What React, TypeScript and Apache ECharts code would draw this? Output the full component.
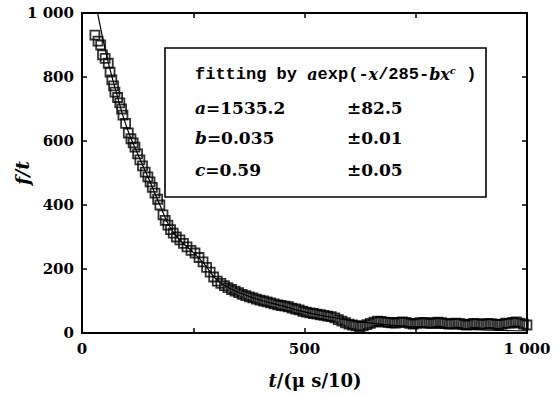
import React, { useEffect, useRef } from "react";
import * as echarts from "echarts";

// measured points: [t, f/t]
const measuredX = [29, 36, 42, 46, 52, 59, 63, 67, 71, 74, 80, 85, 89, 92, 98, 104, 110, 115, 119, 125, 130, 136, 142, 148, 153, 158, 164, 170, 175, 182, 187, 193, 199, 205, 212, 220, 228, 236, 245, 254, 263, 272, 280, 288, 296, 304, 312, 320, 328, 336, 344, 352, 360, 368, 376, 384, 392, 400, 408, 416, 424, 432, 440, 448, 456, 464, 472, 480, 488, 496, 504, 512, 520, 528, 536, 544, 552, 560, 568, 576, 584, 592, 600, 608, 616, 624, 632, 640, 648, 656, 664, 672, 680, 688, 696, 704, 712, 720, 728, 736, 744, 752, 760, 768, 776, 784, 792, 800, 808, 816, 824, 832, 840, 848, 856, 864, 872, 880, 888, 896, 904, 912, 920, 928, 936, 944, 952, 960, 968, 976, 984, 992, 1000];
const measuredY = [931, 912, 900, 869, 858, 843, 815, 791, 772, 753, 736, 719, 700, 681, 655, 625, 607, 594, 581, 560, 541, 522, 503, 488, 472, 455, 437, 418, 400, 369, 352, 337, 323, 312, 300, 291, 280, 269, 258, 250, 236, 222, 205, 190, 175, 162, 155, 148, 142, 136, 131, 126, 121, 117, 113, 110, 106, 103, 100, 97, 94, 91, 88, 86, 84, 82, 78, 75, 72, 68, 65, 63, 61, 59, 57, 55, 53, 51, 47, 42, 37, 32, 28, 25, 22, 20, 22, 26, 30, 34, 37, 36, 34, 33, 32, 31, 33, 35, 33, 30, 28, 30, 32, 33, 31, 30, 32, 34, 32, 30, 28, 29, 31, 30, 27, 25, 28, 30, 29, 27, 28, 30, 29, 27, 26, 28, 31, 30, 33, 35, 31, 28, 25];

// fitted curve
const fitX = [30, 40, 50, 60, 75, 100, 125, 150, 175, 200, 225, 250, 275, 300, 325, 350, 400, 450, 500, 550, 600, 650, 700, 750, 800, 850, 900, 950, 1000];
const fitY = [1040, 965, 900, 840, 762, 645, 560, 482, 400, 325, 283, 252, 215, 170, 145, 128, 103, 85, 66, 52, 40, 31, 24, 19, 15, 12, 10, 8, 7];

const xTickLabels: Record<number, string> = { 0: "0", 500: "500", 1000: "1 000" };
const yTickLabels: Record<number, string> = { 0: "0", 200: "200", 400: "400", 600: "600", 800: "800", 1000: "1 000" };

const legendRows = [
  ["a", "=1535.2", "±82.5"],
  ["b", "=0.035", "±0.01"],
  ["c", "=0.59", "±0.05"],
];

const SERIF = "'DejaVu Serif', 'Liberation Serif', serif";
const MONO = "'Liberation Mono', 'Courier New', monospace";

export default function App() {
  const ref = useRef<HTMLDivElement>(null);
  useEffect(() => {
    if (!ref.current) return;
    const chart = echarts.init(ref.current, undefined, { renderer: "svg" });
    const axisLine = { show: true, onZero: false, lineStyle: { color: "#000", width: 2 } };
    const tick = { show: true, inside: true, length: 5, lineStyle: { color: "#000", width: 1.5 } };
    const labelStyle = { color: "#000", fontFamily: SERIF, fontWeight: "bold" as const, fontSize: 15 };
    const rowY = [108, 138, 170];
    const rowTexts: any[] = [];
    legendRows.forEach((r, i) => {
      rowTexts.push({
        type: "text",
        x: 195,
        y: rowY[i],
        style: {
          text: `{i|${r[0]}}${r[1]}`,
          textVerticalAlign: "middle",
          fill: "#000",
          font: `bold 17px ${SERIF}`,
          rich: { i: { fontStyle: "italic", fontWeight: "bold", fontSize: 17, fontFamily: SERIF } },
        },
      });
      rowTexts.push({
        type: "text",
        x: 347,
        y: rowY[i],
        style: { text: r[2], textVerticalAlign: "middle", fill: "#000", font: `bold 17px ${SERIF}` },
      });
    });
    chart.setOption({
      animation: false,
      backgroundColor: "#fff",
      grid: { left: 82, right: 33, top: 13, bottom: 61, containLabel: false },
      xAxis: [
        {
          type: "value",
          min: 0,
          max: 1000,
          interval: 250,
          position: "bottom",
          axisLine,
          axisTick: tick,
          splitLine: { show: false },
          axisLabel: {
            ...labelStyle,
            margin: 8,
            formatter: (v: number) => xTickLabels[v] ?? "",
          },
        },
        {
          type: "value",
          min: 0,
          max: 1000,
          interval: 250,
          position: "top",
          axisLine,
          axisTick: tick,
          splitLine: { show: false },
          axisLabel: { show: false },
        },
      ],
      yAxis: [
        {
          type: "value",
          min: 0,
          max: 1000,
          interval: 200,
          position: "left",
          axisLine,
          axisTick: tick,
          splitLine: { show: false },
          axisLabel: {
            ...labelStyle,
            margin: 8,
            formatter: (v: number) => yTickLabels[v] ?? "",
          },
        },
        {
          type: "value",
          min: 0,
          max: 1000,
          interval: 200,
          position: "right",
          axisLine,
          axisTick: tick,
          splitLine: { show: false },
          axisLabel: { show: false },
        },
      ],
      series: [
        {
          type: "line",
          data: fitX.map((x, i) => [x, fitY[i]]),
          smooth: true,
          showSymbol: false,
          symbol: "none",
          clip: true,
          lineStyle: { color: "#000", width: 1.2 },
          z: 1,
        },
        {
          type: "scatter",
          data: measuredX.map((x, i) => [x, measuredY[i]]),
          symbol: "rect",
          symbolSize: 9,
          itemStyle: { color: "rgba(255,255,255,0)", borderColor: "#000", borderWidth: 1.8 },
          z: 2,
        },
      ],
      graphic: [
        {
          type: "rect",
          shape: { x: 165, y: 48, width: 321, height: 149 },
          style: { fill: "#fff", stroke: "#000", lineWidth: 1.6 },
          z: 10,
        },
        {
          type: "text",
          x: 195,
          y: 74,
          z: 11,
          style: {
            text: "fitting by {i|a}exp(-{i|x}/285-{i|bx}{s|c} )",
            textVerticalAlign: "middle",
            fill: "#000",
            font: `bold 17px ${MONO}`,
            rich: {
              i: { fontStyle: "italic", fontWeight: "bold", fontSize: 16, fontFamily: SERIF },
              s: { fontStyle: "italic", fontWeight: "bold", fontSize: 10, fontFamily: SERIF, verticalAlign: "top", padding: [0, 0, 8, 0] },
            },
          },
        },
        ...rowTexts.map((t) => ({ ...t, z: 11 })),
        {
          type: "text",
          x: 22,
          y: 173,
          rotation: Math.PI / 2,
          style: {
            text: "f/t",
            textAlign: "center",
            textVerticalAlign: "middle",
            fill: "#000",
            font: `italic bold 19px ${SERIF}`,
          },
        },
        {
          type: "text",
          x: 315,
          y: 380,
          style: {
            text: "{i|t}/(μ s/10)",
            textAlign: "center",
            textVerticalAlign: "middle",
            fill: "#000",
            font: `bold 18px ${SERIF}`,
            rich: { i: { fontStyle: "italic", fontWeight: "bold", fontSize: 18, fontFamily: SERIF } },
          },
        },
      ],
    });
    return () => chart.dispose();
  }, []);
  return (
    <div
      ref={ref}
      style={{ position: "absolute", left: 0, top: 0, width: 560, height: 394 }}
    />
  );
}
